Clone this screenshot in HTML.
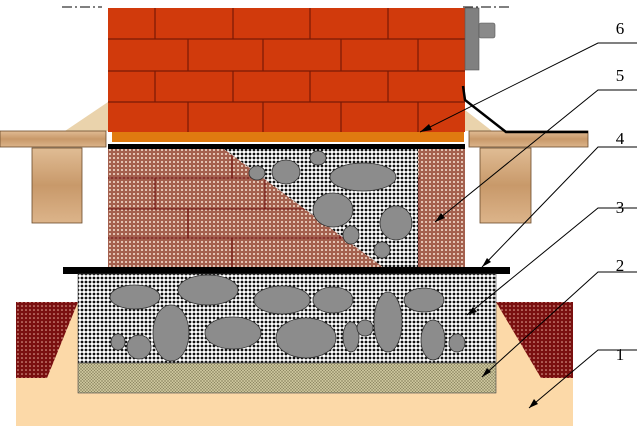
<!DOCTYPE html><html><head><style>html,body{margin:0;padding:0;background:#fff}svg{display:block}</style></head><body>
<svg width="640" height="426" viewBox="0 0 640 426" xmlns="http://www.w3.org/2000/svg">
<defs>
<pattern id="rub" width="4" height="4" patternUnits="userSpaceOnUse"><rect width="4" height="4" fill="#fff"/><circle cx="2" cy="2" r="1.4" fill="#111"/></pattern>
<pattern id="brk" width="4" height="4" patternUnits="userSpaceOnUse"><rect width="4" height="4" fill="#a4604e"/><circle cx="2" cy="2" r="1" fill="#f6e2d2"/></pattern>
<pattern id="red" width="4" height="4" patternUnits="userSpaceOnUse"><rect width="4" height="4" fill="#7a1010"/><circle cx="2" cy="2" r="0.8" fill="#e8b0a0"/></pattern>
<pattern id="sand" width="3" height="3" patternUnits="userSpaceOnUse"><rect width="3" height="3" fill="#c9c39a"/><path d="M0 0L3 3M3 0L0 3" stroke="#8a8460" stroke-width="0.5"/></pattern>
<linearGradient id="wood" x1="0" y1="0" x2="0" y2="1"><stop offset="0" stop-color="#e0bc94"/><stop offset="0.5" stop-color="#c8996a"/><stop offset="1" stop-color="#dcb48a"/></linearGradient>
</defs>
<rect x="16" y="302" width="557" height="124" fill="#fcd9a8"/>
<polygon points="16,302 78,302 47,378 16,378" fill="url(#red)"/>
<polygon points="496,302 573,302 573,378 541,378" fill="url(#red)"/>
<path d="M62 7H102M463 7H510" stroke="#000" stroke-width="1" stroke-dasharray="10,3,2,3"/>
<rect x="108" y="8" width="357" height="124" fill="#d13a0c"/>
<g stroke="#7a1a06" stroke-width="1.2" fill="none">
<path d="M108 39H465M108 71H465M108 102H465"/>
<path d="M155 8V39M233 8V39M310 8V39M388 8V39M188 39V71M263 39V71M341 39V71M418 39V71M155 71V102M233 71V102M310 71V102M388 71V102M188 102V132M263 102V132M341 102V132M418 102V132"/>
</g>
<rect x="465" y="8" width="14" height="62" fill="#808080" stroke="#555" stroke-width="0.6"/>
<rect x="479" y="23" width="16" height="15" fill="#8a8a8a" stroke="#555" stroke-width="0.6" rx="2"/>
<polygon points="65,131 108,102 108,131" fill="#ead3ac"/>
<polygon points="465,110 465,131 492,131" fill="#ead3ac"/>
<rect x="0" y="131" width="106" height="16" fill="url(#wood)" stroke="#6a4a2a" stroke-width="0.8"/>
<rect x="469" y="131" width="119" height="16" fill="url(#wood)" stroke="#6a4a2a" stroke-width="0.8"/>
<rect x="32" y="148" width="50" height="75" fill="url(#wood)" stroke="#6a4a2a" stroke-width="0.8"/>
<rect x="480" y="148" width="51" height="75" fill="url(#wood)" stroke="#6a4a2a" stroke-width="0.8"/>
<path d="M463 86L465 100L506 132H588" stroke="#000" stroke-width="2.5" fill="none"/>
<rect x="112" y="132" width="352" height="10" fill="#e07a10"/>
<rect x="108" y="144" width="357" height="5" fill="#000"/>
<rect x="108" y="149" width="357" height="119" fill="url(#brk)"/>
<g stroke="#6a0808" stroke-width="1" fill="none">
<path d="M108 178H420M108 209H420M108 238H420M232 149V178M418 178V268M155 178V209M265 178V209M188 209V238M340 209V238M232 238V268"/>
</g>
<polygon points="224,149 418,149 418,268 384,268" fill="url(#rub)"/>
<g fill="#8c8c8c" stroke="#333" stroke-width="0.8">
<ellipse cx="318" cy="158" rx="8" ry="7"/><ellipse cx="257" cy="173" rx="8" ry="7"/><ellipse cx="286" cy="172" rx="14" ry="12"/>
<ellipse cx="363" cy="177" rx="33" ry="14"/><ellipse cx="333" cy="210" rx="20" ry="17"/><ellipse cx="396" cy="223" rx="16" ry="17"/>
<ellipse cx="351" cy="235" rx="8" ry="9"/><ellipse cx="382" cy="250" rx="8" ry="8"/>
</g>
<rect x="63" y="267" width="447" height="7" fill="#000"/>
<rect x="78" y="274" width="418" height="89" fill="url(#rub)" stroke="#444" stroke-width="0.6"/>
<g fill="#8c8c8c" stroke="#333" stroke-width="0.8">
<ellipse cx="135" cy="297" rx="25" ry="12"/><ellipse cx="208" cy="290" rx="30" ry="15"/><ellipse cx="282" cy="300" rx="28" ry="14"/>
<ellipse cx="333" cy="300" rx="20" ry="13"/><ellipse cx="424" cy="300" rx="20" ry="12"/><ellipse cx="171" cy="333" rx="18" ry="28"/>
<ellipse cx="233" cy="333" rx="28" ry="16"/><ellipse cx="306" cy="338" rx="30" ry="20"/><ellipse cx="388" cy="322" rx="14" ry="30"/>
<ellipse cx="433" cy="340" rx="12" ry="20"/><ellipse cx="351" cy="337" rx="8" ry="15"/><ellipse cx="365" cy="328" rx="8" ry="8"/>
<ellipse cx="139" cy="347" rx="12" ry="12"/><ellipse cx="118" cy="342" rx="7" ry="8"/><ellipse cx="457" cy="343" rx="8" ry="9"/>
</g>
<rect x="78" y="363" width="418" height="30" fill="url(#sand)" stroke="#444" stroke-width="0.6"/>
<g stroke="#000" stroke-width="1" fill="none">
<path d="M637 43H598L420 132"/><path d="M637 90H598L435 222"/><path d="M637 147H598L482 267"/>
<path d="M637 208H598L467 315"/><path d="M637 272H598L482 377"/><path d="M637 350H598L529 408"/>
</g>
<g fill="#000">
<polygon points="420,132 429,124 432,130"/><polygon points="435,222 441,213 445,218"/><polygon points="482,267 487,258 491,262"/>
<polygon points="467,315 473,307 477,312"/><polygon points="482,377 487,368 491,372"/><polygon points="529,408 534,399 538,404"/>
</g>
<g font-family="Liberation Serif, serif" font-size="17" fill="#000" text-anchor="middle">
<text x="620" y="34">6</text><text x="620" y="81">5</text><text x="620" y="144">4</text>
<text x="620" y="213">3</text><text x="620" y="271">2</text><text x="620" y="360">1</text>
</g>
</svg>
</body></html>
